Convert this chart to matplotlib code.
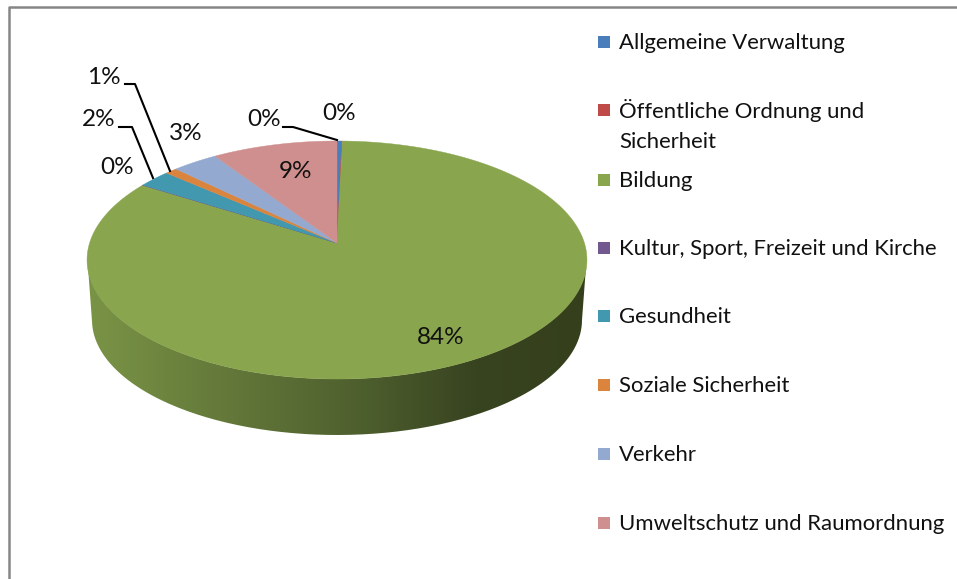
import numpy as np
import matplotlib
matplotlib.use('Agg')
import matplotlib.pyplot as plt
from matplotlib.colors import LinearSegmentedColormap
from matplotlib.patches import PathPatch
from matplotlib.path import Path

plt.rcParams['font.family'] = ['Lato', 'DejaVu Sans']

categories = ['Allgemeine Verwaltung', 'Öffentliche Ordnung und\nSicherheit', 'Bildung',
              'Kultur, Sport, Freizeit und Kirche', 'Gesundheit', 'Soziale Sicherheit',
              'Verkehr', 'Umweltschutz und Raumordnung']
values = [0.35, 0.05, 83.55, 0.05, 2.4, 0.9, 3.4, 9.3]
value_labels = ['0%', '0%', '84%', '0%', '2%', '1%', '3%', '9%']
colors = ['#4a7ebb', '#be4b48', '#89a54e', '#71588f', '#4198af', '#db843d', '#93a9cf', '#cf8f8e']

# where the labels and legend rows sit, in pixels
label_pos = [(339, 113), (264, 120), (441, 337), (117, 167), (99, 119), (104, 78), (186, 133), (296, 171)]
legend_y = [42, 110, 180, 248, 316, 385, 454, 523]

fig = plt.figure(figsize=(9.57, 5.79), dpi=100)
ax = fig.add_axes([0, 0, 1, 1])
ax.set_xlim(0, 957)
ax.set_ylim(579, 0)
ax.axis('off')


# tilted circle -> screen, gives the off centre apex of a 3D pie
def project(t):
    X, Y = np.sin(t), np.cos(t)
    w = 1 + 0.1429 * Y
    return 337 + 247.4 * X / w, (243 - 81.86 * Y) / w


# side wall with a left to right shading, clipped to the outline
t = np.linspace(np.pi / 2, 3 * np.pi / 2, 200)
top_x = 337 + 249.5 * np.cos(t - np.pi / 2)
top_y = 260 + 119 * np.sin(t - np.pi / 2)
low_x = 337 + 245 * np.cos(t - np.pi / 2)
low_y = 320 + 115 * np.sin(t - np.pi / 2)
wall = np.vstack([np.column_stack([top_x, top_y]), np.column_stack([low_x, low_y])[::-1]])
shade = LinearSegmentedColormap.from_list('wall', [(0, '#7a9446'), (0.27, '#64793a'), (0.55, '#4e5f2e'),
                                                   (0.78, '#384320'), (1, '#353f1c')])
img = ax.imshow(np.linspace(0, 1, 256).reshape(1, -1), cmap=shade, extent=(87, 586, 440, 255),
                aspect='auto', zorder=1)
clip = PathPatch(Path(wall), transform=ax.transData, facecolor='none', edgecolor='none')
ax.add_patch(clip)
img.set_clip_path(clip)
ax.set_xlim(0, 957)
ax.set_ylim(579, 0)

# top face
edges = np.cumsum([0] + values) / sum(values) * 2 * np.pi
for i, c in enumerate(colors):
    n = max(3, int(values[i] * 8))
    a = np.linspace(edges[i], edges[i + 1], n)
    px, py = project(a)
    ax.fill(np.r_[337, px], np.r_[243, py], color=c, lw=0.3, zorder=2)

# labels
for (x, y), s in zip(label_pos, value_labels):
    ax.text(x, y, s, fontsize=17.5, color='#111111', ha='center', va='center', zorder=4)

# leader lines
ax.plot([125, 135, 170], [84, 84, 171], color='black', lw=1.5, zorder=3)
ax.plot([119, 132, 153], [127, 127, 178], color='black', lw=1.5, zorder=3)
ax.plot([283, 293, 337], [127, 127, 140], color='black', lw=1.5, zorder=3)

# legend
for name, c, y in zip(categories, colors, legend_y):
    ax.scatter([604], [y], marker='s', s=80, color=c, linewidths=0, zorder=3)
    lines = name.split('\n')
    for k, line in enumerate(lines):
        ax.text(619, y + 1 + 31 * k, line, fontsize=15.9, color='#111111', ha='left', va='center')

# chart frame
ax.plot([9, 9, 957], [579, 7, 7], color='#868686', lw=1.8, zorder=5)

fig.savefig('out.png', dpi=100)
